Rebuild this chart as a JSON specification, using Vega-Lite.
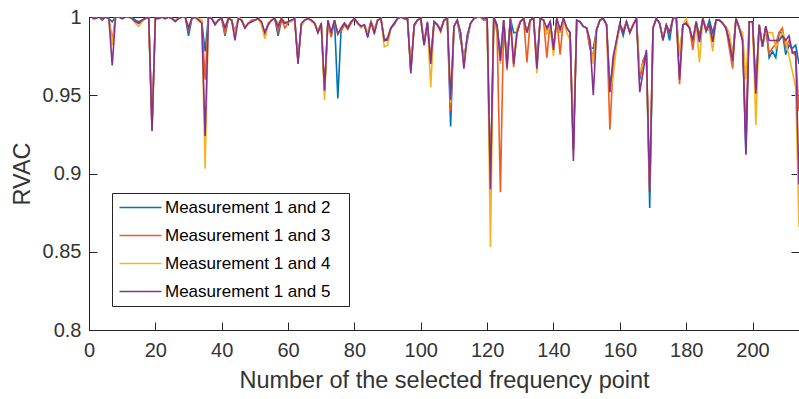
{
  "$schema": "https://vega.github.io/schema/vega-lite/v6.json",
  "width": 710,
  "height": 313,
  "autosize": {"type": "none"},
  "padding": {"left": 89, "top": 17, "right": 0, "bottom": 69},
  "background": "white",
  "config": {
    "view": {"stroke": "#262626", "strokeWidth": 1},
    "font": "Liberation Sans",
    "axis": {
      "grid": false,
      "domainColor": "#262626",
      "tickColor": "#262626",
      "labelColor": "#333333",
      "titleColor": "#333333",
      "labelFont": "Liberation Sans",
      "titleFont": "Liberation Sans",
      "labelFontSize": 20,
      "titleFontSize": 23.5,
      "titleFontWeight": "normal",
      "tickSize": -8
    }
  },
  "data": {
    "values": [
      {"x":1,"m2":0.999,"m3":0.999,"m4":0.999,"m5":0.999},
      {"x":2,"m2":1,"m3":0.999,"m4":0.999,"m5":0.999},
      {"x":3,"m2":1,"m3":1,"m4":1,"m5":1},
      {"x":4,"m2":0.998,"m3":0.999,"m4":0.999,"m5":0.999},
      {"x":5,"m2":1,"m3":1,"m4":1,"m5":1},
      {"x":6,"m2":0.999,"m3":0.999,"m4":0.999,"m5":0.999},
      {"x":7,"m2":0.997,"m3":0.985,"m4":0.982,"m5":0.969},
      {"x":8,"m2":1,"m3":1,"m4":1,"m5":1},
      {"x":9,"m2":1,"m3":1,"m4":1,"m5":1},
      {"x":10,"m2":0.999,"m3":1,"m4":1,"m5":0.999},
      {"x":11,"m2":1,"m3":1,"m4":1,"m5":1},
      {"x":12,"m2":1,"m3":1,"m4":1,"m5":1},
      {"x":13,"m2":1,"m3":0.999,"m4":0.999,"m5":0.999},
      {"x":14,"m2":0.998,"m3":0.997,"m4":0.996,"m5":0.997},
      {"x":15,"m2":0.997,"m3":0.996,"m4":0.994,"m5":0.996},
      {"x":16,"m2":0.998,"m3":0.998,"m4":0.997,"m5":0.998},
      {"x":17,"m2":0.999,"m3":0.999,"m4":0.999,"m5":0.999},
      {"x":18,"m2":1,"m3":1,"m4":1,"m5":1},
      {"x":19,"m2":0.93,"m3":0.928,"m4":0.928,"m5":0.927},
      {"x":20,"m2":0.999,"m3":0.999,"m4":0.999,"m5":0.999},
      {"x":21,"m2":0.999,"m3":0.999,"m4":0.999,"m5":0.999},
      {"x":22,"m2":1,"m3":1,"m4":1,"m5":1},
      {"x":23,"m2":0.999,"m3":0.999,"m4":0.999,"m5":0.999},
      {"x":24,"m2":1,"m3":1,"m4":1,"m5":1},
      {"x":25,"m2":0.999,"m3":0.999,"m4":0.999,"m5":0.999},
      {"x":26,"m2":0.998,"m3":0.998,"m4":0.998,"m5":0.997},
      {"x":27,"m2":0.999,"m3":0.999,"m4":0.999,"m5":0.999},
      {"x":28,"m2":1,"m3":1,"m4":1,"m5":1},
      {"x":29,"m2":1,"m3":1,"m4":1,"m5":1},
      {"x":30,"m2":0.988,"m3":0.992,"m4":0.994,"m5":0.993},
      {"x":31,"m2":0.999,"m3":0.999,"m4":0.999,"m5":0.999},
      {"x":32,"m2":1,"m3":1,"m4":1,"m5":1},
      {"x":33,"m2":0.998,"m3":0.999,"m4":0.999,"m5":0.998},
      {"x":34,"m2":0.997,"m3":0.997,"m4":0.998,"m5":0.996},
      {"x":35,"m2":0.978,"m3":0.96,"m4":0.903,"m5":0.924},
      {"x":36,"m2":1,"m3":1,"m4":1,"m5":1},
      {"x":37,"m2":0.999,"m3":0.999,"m4":0.999,"m5":0.999},
      {"x":38,"m2":0.996,"m3":0.995,"m4":0.995,"m5":0.995},
      {"x":39,"m2":0.998,"m3":0.998,"m4":0.998,"m5":0.998},
      {"x":40,"m2":0.999,"m3":0.999,"m4":0.999,"m5":0.999},
      {"x":41,"m2":0.988,"m3":0.989,"m4":0.994,"m5":0.993},
      {"x":42,"m2":0.999,"m3":0.999,"m4":0.999,"m5":0.999},
      {"x":43,"m2":0.998,"m3":0.998,"m4":0.998,"m5":0.998},
      {"x":44,"m2":0.99,"m3":0.99,"m4":0.988,"m5":0.985},
      {"x":45,"m2":0.999,"m3":0.999,"m4":1,"m5":0.999},
      {"x":46,"m2":0.998,"m3":0.998,"m4":0.998,"m5":0.998},
      {"x":47,"m2":0.993,"m3":0.993,"m4":0.994,"m5":0.993},
      {"x":48,"m2":0.996,"m3":0.996,"m4":0.996,"m5":0.996},
      {"x":49,"m2":0.997,"m3":0.998,"m4":0.997,"m5":0.997},
      {"x":50,"m2":0.998,"m3":0.998,"m4":0.998,"m5":0.998},
      {"x":51,"m2":0.999,"m3":0.999,"m4":0.999,"m5":0.999},
      {"x":52,"m2":0.996,"m3":0.996,"m4":0.995,"m5":0.997},
      {"x":53,"m2":0.99,"m3":0.988,"m4":0.986,"m5":0.99},
      {"x":54,"m2":0.995,"m3":0.996,"m4":0.995,"m5":0.995},
      {"x":55,"m2":0.998,"m3":0.998,"m4":0.998,"m5":0.998},
      {"x":56,"m2":0.999,"m3":0.999,"m4":0.999,"m5":0.999},
      {"x":57,"m2":0.988,"m3":0.991,"m4":0.996,"m5":0.994},
      {"x":58,"m2":0.998,"m3":0.999,"m4":0.999,"m5":0.999},
      {"x":59,"m2":0.996,"m3":0.993,"m4":0.997,"m5":0.996},
      {"x":60,"m2":0.997,"m3":0.996,"m4":0.997,"m5":0.997},
      {"x":61,"m2":0.998,"m3":0.998,"m4":0.997,"m5":0.998},
      {"x":62,"m2":0.998,"m3":0.998,"m4":0.999,"m5":0.999},
      {"x":63,"m2":0.972,"m3":0.972,"m4":0.972,"m5":0.97},
      {"x":64,"m2":0.995,"m3":0.995,"m4":0.994,"m5":0.996},
      {"x":65,"m2":0.998,"m3":0.998,"m4":0.998,"m5":0.998},
      {"x":66,"m2":0.999,"m3":0.999,"m4":0.999,"m5":0.999},
      {"x":67,"m2":0.998,"m3":0.998,"m4":0.997,"m5":0.998},
      {"x":68,"m2":0.996,"m3":0.996,"m4":0.996,"m5":0.996},
      {"x":69,"m2":0.99,"m3":0.991,"m4":0.992,"m5":0.99},
      {"x":70,"m2":0.995,"m3":0.995,"m4":0.996,"m5":0.996},
      {"x":71,"m2":0.953,"m3":0.952,"m4":0.947,"m5":0.953},
      {"x":72,"m2":0.996,"m3":0.997,"m4":0.998,"m5":0.998},
      {"x":73,"m2":0.99,"m3":0.987,"m4":0.99,"m5":0.99},
      {"x":74,"m2":0.998,"m3":0.997,"m4":0.998,"m5":0.998},
      {"x":75,"m2":0.948,"m3":0.99,"m4":0.989,"m5":0.989},
      {"x":76,"m2":0.993,"m3":0.991,"m4":0.993,"m5":0.993},
      {"x":77,"m2":0.996,"m3":0.995,"m4":0.996,"m5":0.996},
      {"x":78,"m2":0.993,"m3":0.992,"m4":0.994,"m5":0.993},
      {"x":79,"m2":0.997,"m3":0.996,"m4":0.997,"m5":0.997},
      {"x":80,"m2":0.999,"m3":0.999,"m4":0.999,"m5":0.999},
      {"x":81,"m2":0.996,"m3":0.996,"m4":0.996,"m5":0.996},
      {"x":82,"m2":0.994,"m3":0.994,"m4":0.993,"m5":0.994},
      {"x":83,"m2":0.995,"m3":0.995,"m4":0.995,"m5":0.995},
      {"x":84,"m2":0.988,"m3":0.99,"m4":0.99,"m5":0.987},
      {"x":85,"m2":0.997,"m3":0.997,"m4":0.997,"m5":0.997},
      {"x":86,"m2":0.992,"m3":0.989,"m4":0.992,"m5":0.99},
      {"x":87,"m2":0.998,"m3":0.998,"m4":0.998,"m5":0.998},
      {"x":88,"m2":0.999,"m3":0.999,"m4":0.999,"m5":0.999},
      {"x":89,"m2":0.985,"m3":0.985,"m4":0.981,"m5":0.985},
      {"x":90,"m2":0.985,"m3":0.987,"m4":0.982,"m5":0.986},
      {"x":91,"m2":0.993,"m3":0.993,"m4":0.993,"m5":0.993},
      {"x":92,"m2":0.995,"m3":0.996,"m4":0.996,"m5":0.996},
      {"x":93,"m2":0.999,"m3":0.999,"m4":0.999,"m5":0.999},
      {"x":94,"m2":1,"m3":1,"m4":1,"m5":1},
      {"x":95,"m2":0.999,"m3":0.999,"m4":0.999,"m5":0.999},
      {"x":96,"m2":0.998,"m3":0.999,"m4":0.999,"m5":0.999},
      {"x":97,"m2":0.966,"m3":0.966,"m4":0.966,"m5":0.964},
      {"x":98,"m2":0.994,"m3":0.994,"m4":0.995,"m5":0.995},
      {"x":99,"m2":0.998,"m3":0.998,"m4":0.998,"m5":0.998},
      {"x":100,"m2":0.999,"m3":0.999,"m4":0.999,"m5":0.999},
      {"x":101,"m2":0.982,"m3":0.984,"m4":0.985,"m5":0.982},
      {"x":102,"m2":0.996,"m3":0.996,"m4":0.995,"m5":0.997},
      {"x":103,"m2":0.972,"m3":0.972,"m4":0.955,"m5":0.97},
      {"x":104,"m2":0.997,"m3":0.997,"m4":0.996,"m5":0.997},
      {"x":105,"m2":0.995,"m3":0.995,"m4":0.995,"m5":0.995},
      {"x":106,"m2":0.992,"m3":0.992,"m4":0.99,"m5":0.991},
      {"x":107,"m2":0.998,"m3":0.998,"m4":0.998,"m5":0.998},
      {"x":108,"m2":0.999,"m3":0.999,"m4":0.999,"m5":0.999},
      {"x":109,"m2":0.93,"m3":0.94,"m4":0.945,"m5":0.947},
      {"x":110,"m2":0.994,"m3":0.994,"m4":0.994,"m5":0.994},
      {"x":111,"m2":0.998,"m3":0.998,"m4":0.998,"m5":0.998},
      {"x":112,"m2":0.985,"m3":0.99,"m4":0.988,"m5":0.99},
      {"x":113,"m2":0.975,"m3":0.969,"m4":0.972,"m5":0.967},
      {"x":114,"m2":0.985,"m3":0.988,"m4":0.987,"m5":0.988},
      {"x":115,"m2":0.996,"m3":0.996,"m4":0.996,"m5":0.996},
      {"x":116,"m2":0.999,"m3":0.999,"m4":0.999,"m5":0.999},
      {"x":117,"m2":1,"m3":1,"m4":1,"m5":1},
      {"x":118,"m2":1,"m3":1,"m4":1,"m5":1},
      {"x":119,"m2":0.998,"m3":0.998,"m4":0.999,"m5":0.999},
      {"x":120,"m2":0.998,"m3":0.998,"m4":0.999,"m5":0.999},
      {"x":121,"m2":0.893,"m3":0.893,"m4":0.853,"m5":0.89},
      {"x":122,"m2":1,"m3":1,"m4":1,"m5":1},
      {"x":123,"m2":0.995,"m3":0.99,"m4":0.992,"m5":0.994},
      {"x":124,"m2":0.975,"m3":0.888,"m4":0.97,"m5":0.972},
      {"x":125,"m2":0.998,"m3":0.998,"m4":0.998,"m5":0.998},
      {"x":126,"m2":0.972,"m3":0.966,"m4":0.97,"m5":0.968},
      {"x":127,"m2":0.999,"m3":0.999,"m4":0.999,"m5":0.999},
      {"x":128,"m2":0.99,"m3":0.968,"m4":0.972,"m5":0.97},
      {"x":129,"m2":0.99,"m3":0.99,"m4":0.993,"m5":0.99},
      {"x":130,"m2":0.997,"m3":0.997,"m4":0.997,"m5":0.997},
      {"x":131,"m2":0.999,"m3":0.999,"m4":0.999,"m5":0.999},
      {"x":132,"m2":0.99,"m3":0.971,"m4":0.99,"m5":0.99},
      {"x":133,"m2":0.998,"m3":0.998,"m4":0.998,"m5":0.998},
      {"x":134,"m2":0.999,"m3":0.999,"m4":0.999,"m5":0.999},
      {"x":135,"m2":0.97,"m3":0.97,"m4":0.964,"m5":0.967},
      {"x":136,"m2":0.999,"m3":0.999,"m4":0.999,"m5":0.999},
      {"x":137,"m2":0.998,"m3":0.998,"m4":0.998,"m5":0.998},
      {"x":138,"m2":0.99,"m3":0.974,"m4":0.99,"m5":0.993},
      {"x":139,"m2":0.997,"m3":0.997,"m4":0.994,"m5":0.997},
      {"x":140,"m2":0.98,"m3":0.98,"m4":0.975,"m5":0.979},
      {"x":141,"m2":0.999,"m3":0.999,"m4":0.999,"m5":0.999},
      {"x":142,"m2":0.99,"m3":0.976,"m4":0.99,"m5":0.992},
      {"x":143,"m2":0.999,"m3":0.999,"m4":0.999,"m5":0.999},
      {"x":144,"m2":0.993,"m3":0.993,"m4":0.99,"m5":0.993},
      {"x":145,"m2":0.99,"m3":0.99,"m4":0.985,"m5":0.99},
      {"x":146,"m2":0.915,"m3":0.915,"m4":0.915,"m5":0.908},
      {"x":147,"m2":0.998,"m3":0.998,"m4":0.998,"m5":0.998},
      {"x":148,"m2":0.997,"m3":0.997,"m4":0.997,"m5":0.997},
      {"x":149,"m2":0.994,"m3":0.994,"m4":0.994,"m5":0.994},
      {"x":150,"m2":0.993,"m3":0.993,"m4":0.993,"m5":0.993},
      {"x":151,"m2":0.98,"m3":0.98,"m4":0.985,"m5":0.985},
      {"x":152,"m2":0.98,"m3":0.975,"m4":0.97,"m5":0.95},
      {"x":153,"m2":0.992,"m3":0.992,"m4":0.992,"m5":0.992},
      {"x":154,"m2":0.998,"m3":0.998,"m4":0.998,"m5":0.998},
      {"x":155,"m2":0.999,"m3":0.999,"m4":0.999,"m5":0.999},
      {"x":156,"m2":0.995,"m3":0.995,"m4":0.995,"m5":0.995},
      {"x":157,"m2":0.955,"m3":0.928,"m4":0.952,"m5":0.952},
      {"x":158,"m2":0.97,"m3":0.97,"m4":0.962,"m5":0.975},
      {"x":159,"m2":0.985,"m3":0.983,"m4":0.982,"m5":0.985},
      {"x":160,"m2":0.995,"m3":0.995,"m4":0.995,"m5":0.996},
      {"x":161,"m2":0.988,"m3":0.99,"m4":0.992,"m5":0.99},
      {"x":162,"m2":0.997,"m3":0.997,"m4":0.997,"m5":0.997},
      {"x":163,"m2":0.99,"m3":0.99,"m4":0.99,"m5":0.99},
      {"x":164,"m2":0.995,"m3":0.995,"m4":0.995,"m5":0.995},
      {"x":165,"m2":0.999,"m3":0.999,"m4":0.999,"m5":0.999},
      {"x":166,"m2":0.96,"m3":0.962,"m4":0.965,"m5":0.952},
      {"x":167,"m2":0.972,"m3":0.972,"m4":0.97,"m5":0.965},
      {"x":168,"m2":0.977,"m3":0.976,"m4":0.972,"m5":0.979},
      {"x":169,"m2":0.878,"m3":0.89,"m4":0.89,"m5":0.888},
      {"x":170,"m2":0.993,"m3":0.993,"m4":0.993,"m5":0.993},
      {"x":171,"m2":0.999,"m3":0.999,"m4":0.999,"m5":0.999},
      {"x":172,"m2":0.996,"m3":0.996,"m4":0.996,"m5":0.996},
      {"x":173,"m2":0.986,"m3":0.986,"m4":0.986,"m5":0.985},
      {"x":174,"m2":0.995,"m3":0.995,"m4":0.995,"m5":0.995},
      {"x":175,"m2":0.985,"m3":0.99,"m4":0.99,"m5":0.99},
      {"x":176,"m2":0.999,"m3":0.999,"m4":0.999,"m5":0.999},
      {"x":177,"m2":1,"m3":1,"m4":1,"m5":1},
      {"x":178,"m2":0.975,"m3":0.957,"m4":0.975,"m5":0.96},
      {"x":179,"m2":0.995,"m3":0.995,"m4":0.995,"m5":0.995},
      {"x":180,"m2":0.996,"m3":0.996,"m4":0.999,"m5":0.996},
      {"x":181,"m2":0.993,"m3":0.993,"m4":0.993,"m5":0.993},
      {"x":182,"m2":0.984,"m3":0.979,"m4":0.985,"m5":0.985},
      {"x":183,"m2":0.997,"m3":0.997,"m4":0.997,"m5":0.997},
      {"x":184,"m2":0.988,"m3":0.985,"m4":0.971,"m5":0.984},
      {"x":185,"m2":0.999,"m3":0.999,"m4":0.999,"m5":0.999},
      {"x":186,"m2":0.991,"m3":0.993,"m4":0.991,"m5":0.991},
      {"x":187,"m2":0.998,"m3":0.995,"m4":0.992,"m5":0.995},
      {"x":188,"m2":0.99,"m3":0.985,"m4":0.978,"m5":0.984},
      {"x":189,"m2":0.998,"m3":0.998,"m4":0.998,"m5":0.998},
      {"x":190,"m2":0.998,"m3":0.998,"m4":0.998,"m5":0.998},
      {"x":191,"m2":0.996,"m3":0.996,"m4":0.996,"m5":0.996},
      {"x":192,"m2":0.993,"m3":0.993,"m4":0.994,"m5":0.993},
      {"x":193,"m2":0.985,"m3":0.98,"m4":0.99,"m5":0.984},
      {"x":194,"m2":0.975,"m3":0.967,"m4":0.975,"m5":0.972},
      {"x":195,"m2":0.999,"m3":0.999,"m4":0.999,"m5":0.999},
      {"x":196,"m2":0.993,"m3":0.993,"m4":0.993,"m5":0.993},
      {"x":197,"m2":0.985,"m3":0.985,"m4":0.99,"m5":0.985},
      {"x":198,"m2":0.913,"m3":0.925,"m4":0.96,"m5":0.912},
      {"x":199,"m2":0.997,"m3":0.997,"m4":0.997,"m5":0.997},
      {"x":200,"m2":0.997,"m3":0.997,"m4":0.997,"m5":0.997},
      {"x":201,"m2":0.955,"m3":0.955,"m4":0.931,"m5":0.951},
      {"x":202,"m2":0.995,"m3":0.995,"m4":0.995,"m5":0.995},
      {"x":203,"m2":0.981,"m3":0.981,"m4":0.981,"m5":0.981},
      {"x":204,"m2":0.994,"m3":0.994,"m4":0.99,"m5":0.994},
      {"x":205,"m2":0.974,"m3":0.977,"m4":0.99,"m5":0.985},
      {"x":206,"m2":0.978,"m3":0.98,"m4":0.99,"m5":0.985},
      {"x":207,"m2":0.974,"m3":0.983,"m4":0.98,"m5":0.985},
      {"x":208,"m2":0.99,"m3":0.99,"m4":0.985,"m5":0.985},
      {"x":209,"m2":0.99,"m3":0.993,"m4":0.99,"m5":0.988},
      {"x":210,"m2":0.976,"m3":0.98,"m4":0.985,"m5":0.985},
      {"x":211,"m2":0.982,"m3":0.985,"m4":0.975,"m5":0.988},
      {"x":212,"m2":0.98,"m3":0.978,"m4":0.965,"m5":0.977},
      {"x":213,"m2":0.982,"m3":0.975,"m4":0.955,"m5":0.978},
      {"x":214,"m2":0.97,"m3":0.94,"m4":0.866,"m5":0.893}
    ]
  },
  "transform": [{"fold": ["m2", "m3", "m4", "m5"], "as": ["series", "rvac"]}],
  "layer": [
    {
      "mark": {"type": "line", "strokeWidth": 1.6, "clip": true},
      "encoding": {
        "x": {
          "field": "x", "type": "quantitative",
          "scale": {"domain": [0, 214], "nice": false, "zero": false},
          "axis": {"orient": "bottom", "values": [0, 20, 40, 60, 80, 100, 120, 140, 160, 180, 200], "title": "Number of the selected frequency point", "labelPadding": 18, "titlePadding": 8, "labelFlush": false}
        },
        "y": {
          "field": "rvac", "type": "quantitative",
          "scale": {"domain": [0.8, 1], "nice": false, "zero": false},
          "axis": {"orient": "left", "values": [0.8, 0.85, 0.9, 0.95, 1], "format": "~g", "title": "RVAC", "labelPadding": 16, "titlePadding": 8, "labelFlush": false}
        },
        "color": {
          "field": "series", "type": "nominal",
          "scale": {"domain": ["m2", "m3", "m4", "m5"], "range": ["#0072BD", "#F25C1C", "#F8B31C", "#86308F"]},
          "legend": {
            "orient": "none", "legendX": 23, "legendY": 176,
            "title": "\u00a0", "titleOrient": "right", "titlePadding": 13, "titleFontSize": 17,
            "symbolType": "M-1,0L5,0", "symbolSize": 196, "symbolStrokeWidth": 1.6,
            "labelFont": "Liberation Sans", "labelFontSize": 17, "labelColor": "#000000", "labelLimit": 400,
            "padding": 6, "rowPadding": 10, "labelOffset": 30,
            "strokeColor": "#262626", "fillColor": "white",
            "labelExpr": "'Measurement 1 and ' + slice(datum.label, 1)"
          }
        }
      }
    },
    {
      "mark": {"type": "point", "opacity": 0},
      "encoding": {
        "x": {
          "field": "x", "type": "quantitative",
          "scale": {"domain": [0, 214], "nice": false, "zero": false},
          "axis": {"orient": "top", "values": [0, 20, 40, 60, 80, 100, 120, 140, 160, 180, 200], "labels": false, "title": null}
        },
        "y": {
          "field": "rvac", "type": "quantitative",
          "scale": {"domain": [0.8, 1], "nice": false, "zero": false},
          "axis": {"orient": "right", "values": [0.8, 0.85, 0.9, 0.95, 1], "labels": false, "title": null}
        }
      }
    }
  ],
  "resolve": {"axis": {"x": "independent", "y": "independent"}}
}
